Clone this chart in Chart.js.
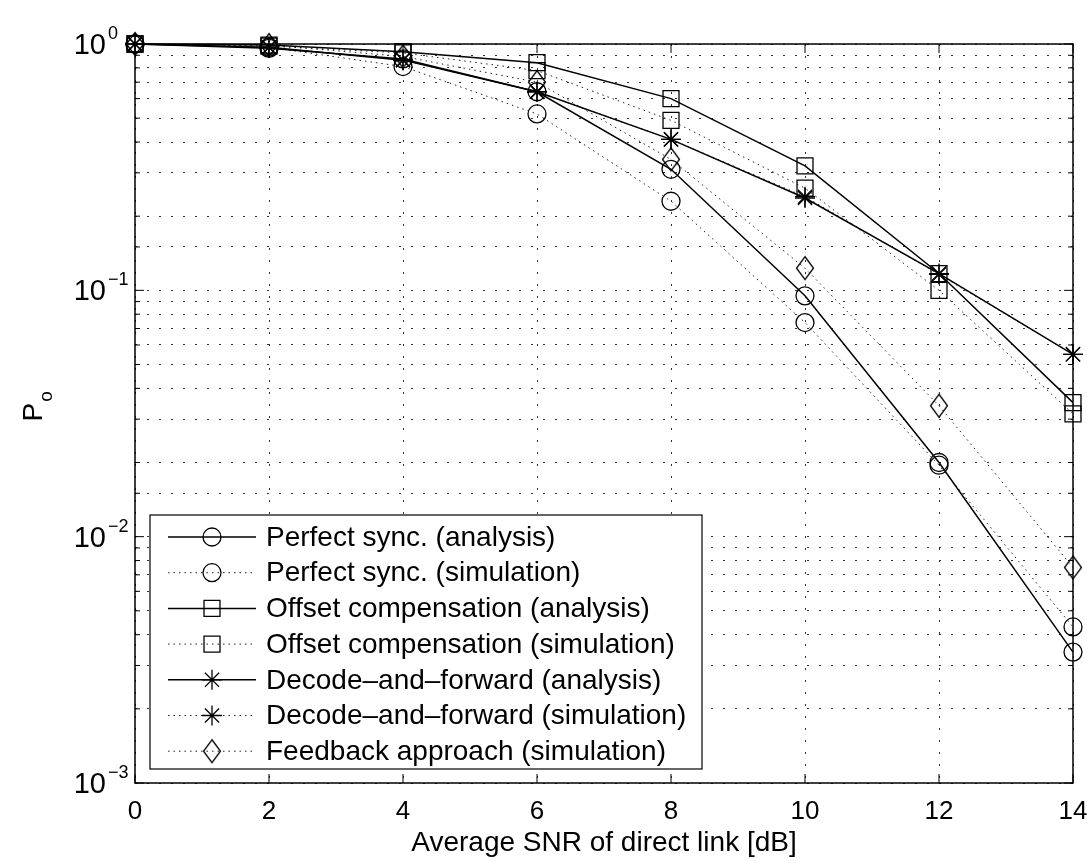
<!DOCTYPE html>
<html>
<head>
<meta charset="utf-8">
<title>Outage probability vs SNR</title>
<script src="https://cdn.jsdelivr.net/npm/chart.js@4.4.0/dist/chart.umd.min.js"></script>
<style>
    html, body { margin: 0; padding: 0; background: #fff; }
    canvas { display: block; }
</style>
</head>
<body>
<canvas id="outageChart" width="1087" height="861"></canvas>
<script>
// values
const snrDb = [0, 2, 4, 6, 8, 10, 12, 14];
const perfectAnalysis = [1.0, 0.96, 0.87, 0.64, 0.31, 0.095, 0.020, 0.0034];
const perfectSimulation = [1.0, 0.97, 0.81, 0.52, 0.23, 0.074, 0.0195, 0.0043];
const offsetAnalysis = [1.0, 0.99, 0.93, 0.84, 0.60, 0.32, 0.117, 0.035];
const offsetSimulation = [1.0, 0.98, 0.92, 0.78, 0.49, 0.26, 0.100, 0.0315];
const dfAnalysis = [1.0, 0.97, 0.86, 0.64, 0.41, 0.237, 0.117, 0.055];
const dfSimulation = [1.0, 0.97, 0.86, 0.64, 0.41, 0.240, 0.116, 0.055];
const feedbackSimulation = [1.0, 0.99, 0.89, 0.70, 0.34, 0.123, 0.034, 0.0075];

const seriesLabels = [
    'Perfect sync. (analysis)',
    'Perfect sync. (simulation)',
    'Offset compensation (analysis)',
    'Offset compensation (simulation)',
    'Decode\u2013and\u2013forward (analysis)',
    'Decode\u2013and\u2013forward (simulation)',
    'Feedback approach (simulation)',
];

const yDecadeValues = [1, 0.1, 0.01, 0.001];
const yDecadeExponents = ['0', '\u22121', '\u22122', '\u22123'];
const xTitle = 'Average SNR of direct link [dB]';

const FONT = '"Liberation Sans", Arial, Helvetica, sans-serif';

const makeDiamond = () => {
    const c = document.createElement('canvas');
    c.width = 20;
    c.height = 26;
    const g = c.getContext('2d');
    g.strokeStyle = '#000';
    g.lineWidth = 1.3;
    g.beginPath();
    g.moveTo(10, 1.5);
    g.lineTo(18.5, 13);
    g.lineTo(10, 24.5);
    g.lineTo(1.5, 13);
    g.closePath();
    g.stroke();
    return c;
};
const diamond = makeDiamond();

const toPoints = (vals) => vals.map((v, i) => ({ x: snrDb[i], y: v }));

const solidLine = { borderColor: '#000', borderWidth: 1.5, borderDash: [] };
const dottedLine = { borderColor: '#222', borderWidth: 1, borderDash: [1.5, 4] };

const makeSeries = (label, vals, line, pointStyle, pointRadius) => Object.assign({
    label: label,
    data: toPoints(vals),
    pointStyle: pointStyle,
    pointRadius: pointRadius,
    pointBorderWidth: 1.3,
    pointBorderColor: '#000',
    pointBackgroundColor: 'rgba(0,0,0,0)',
    backgroundColor: 'rgba(0,0,0,0)',
    fill: false,
    tension: 0,
    clip: false,
}, line);

const datasets = [
    makeSeries(seriesLabels[0], perfectAnalysis, solidLine, 'circle', 9),
    makeSeries(seriesLabels[1], perfectSimulation, dottedLine, 'circle', 9),
    makeSeries(seriesLabels[2], offsetAnalysis, solidLine, 'rect', 11.3),
    makeSeries(seriesLabels[3], offsetSimulation, dottedLine, 'rect', 11.3),
    makeSeries(seriesLabels[4], dfAnalysis, solidLine, 'star', 10),
    makeSeries(seriesLabels[5], dfSimulation, dottedLine, 'star', 10),
    makeSeries(seriesLabels[6], feedbackSimulation, dottedLine, diamond, 10),
];

const matlabFrame = {
    id: 'matlabFrame',
    afterDatasetsDraw(chart) {
        const { ctx, chartArea: a, scales } = chart;
        const xs = scales.x;
        const ys = scales.y;
        const seg = (x0, y0, x1, y1) => {
            ctx.beginPath();
            ctx.moveTo(x0, y0);
            ctx.lineTo(x1, y1);
            ctx.stroke();
        };
        ctx.save();
        ctx.strokeStyle = '#000';
        ctx.lineWidth = 1;
        xs.ticks.forEach((t) => {
            const px = xs.getPixelForValue(t.value);
            seg(px, a.bottom, px, a.bottom - 9);
            seg(px, a.top, px, a.top + 9);
        });
        ys.ticks.forEach((t) => {
            const py = ys.getPixelForValue(t.value);
            const len = yDecadeValues.includes(t.value) ? 9 : 5;
            seg(a.left, py, a.left + len, py);
            seg(a.right, py, a.right - len, py);
        });
        ctx.lineWidth = 1.5;
        ctx.strokeRect(a.left, a.top, a.right - a.left, a.bottom - a.top);

        // legend box, bottom-left inside the axes
        const lx = a.left + 15;
        const ly = a.bottom - 268;
        const lw = 552;
        const lh = 254;
        ctx.fillStyle = '#fff';
        ctx.fillRect(lx, ly, lw, lh);
        ctx.lineWidth = 1.2;
        ctx.strokeRect(lx, ly, lw, lh);
        ctx.font = '28px ' + FONT;
        ctx.textBaseline = 'middle';
        ctx.textAlign = 'left';
        chart.data.datasets.forEach((ds, i) => {
            const ry = ly + 22 + i * 35.7;
            ctx.strokeStyle = ds.borderColor;
            ctx.lineWidth = ds.borderWidth;
            ctx.setLineDash(ds.borderDash || []);
            seg(lx + 18, ry, lx + 106, ry);
            ctx.setLineDash([]);
            ctx.strokeStyle = '#000';
            ctx.fillStyle = 'rgba(0,0,0,0)';
            ctx.lineWidth = ds.pointBorderWidth;
            Chart.helpers.drawPoint(ctx, {
                pointStyle: ds.pointStyle,
                radius: ds.pointRadius,
                rotation: 0,
                borderWidth: ds.pointBorderWidth,
            }, lx + 62, ry);
            ctx.fillStyle = '#000';
            ctx.fillText(ds.label, lx + 116, ry + 1);
        });
        ctx.restore();
    },
    afterDraw(chart) {
        const { ctx, chartArea: a, scales } = chart;
        const ys = scales.y;
        ctx.save();
        ctx.fillStyle = '#000';
        ctx.textBaseline = 'middle';
        yDecadeValues.forEach((v, i) => {
            const py = ys.getPixelForValue(v);
            ctx.font = '29px ' + FONT;
            ctx.textAlign = 'right';
            ctx.fillText('10', a.left - 29, py + 2);
            ctx.font = '18px ' + FONT;
            ctx.textAlign = 'left';
            ctx.fillText(yDecadeExponents[i], a.left - 27, py - 10);
        });
        // y axis title P_o, rotated
        const cy = (a.top + a.bottom) / 2;
        ctx.translate(34, cy + 8);
        ctx.rotate(-Math.PI / 2);
        ctx.font = '28px ' + FONT;
        ctx.textAlign = 'left';
        ctx.fillText('P', 0, 0);
        const pw = ctx.measureText('P').width;
        ctx.font = '19px ' + FONT;
        ctx.fillText('o', pw + 1, 13);
        ctx.restore();
    },
};

const gridStyle = { color: '#333', lineWidth: 1, drawTicks: false };
const gridDash = { display: false, dash: [2, 10] };

new Chart(document.getElementById('outageChart').getContext('2d'), {
    type: 'line',
    data: { datasets: datasets },
    options: {
        responsive: false,
        animation: false,
        layout: { padding: { top: 44, right: 14, bottom: 0, left: 0 } },
        plugins: {
            legend: { display: false },
            tooltip: { enabled: false },
        },
        scales: {
            x: {
                type: 'linear',
                min: 0,
                max: 14,
                grid: gridStyle,
                border: gridDash,
                ticks: {
                    stepSize: 2,
                    color: '#000',
                    padding: 13,
                    font: { family: FONT, size: 26 },
                },
                title: {
                    display: true,
                    text: xTitle,
                    color: '#000',
                    font: { family: FONT, size: 28 },
                    padding: { top: 0, bottom: 1 },
                },
                afterFit(scale) {
                    scale.height = 78;
                    scale.paddingLeft = 0;
                    scale.paddingRight = 0;
                },
            },
            y: {
                type: 'logarithmic',
                min: 0.001,
                max: 1,
                grid: gridStyle,
                border: gridDash,
                ticks: { display: false, autoSkip: false },
                afterFit(scale) { scale.width = 135; },
            },
        },
    },
    plugins: [matlabFrame],
});
</script>
</body>
</html>
